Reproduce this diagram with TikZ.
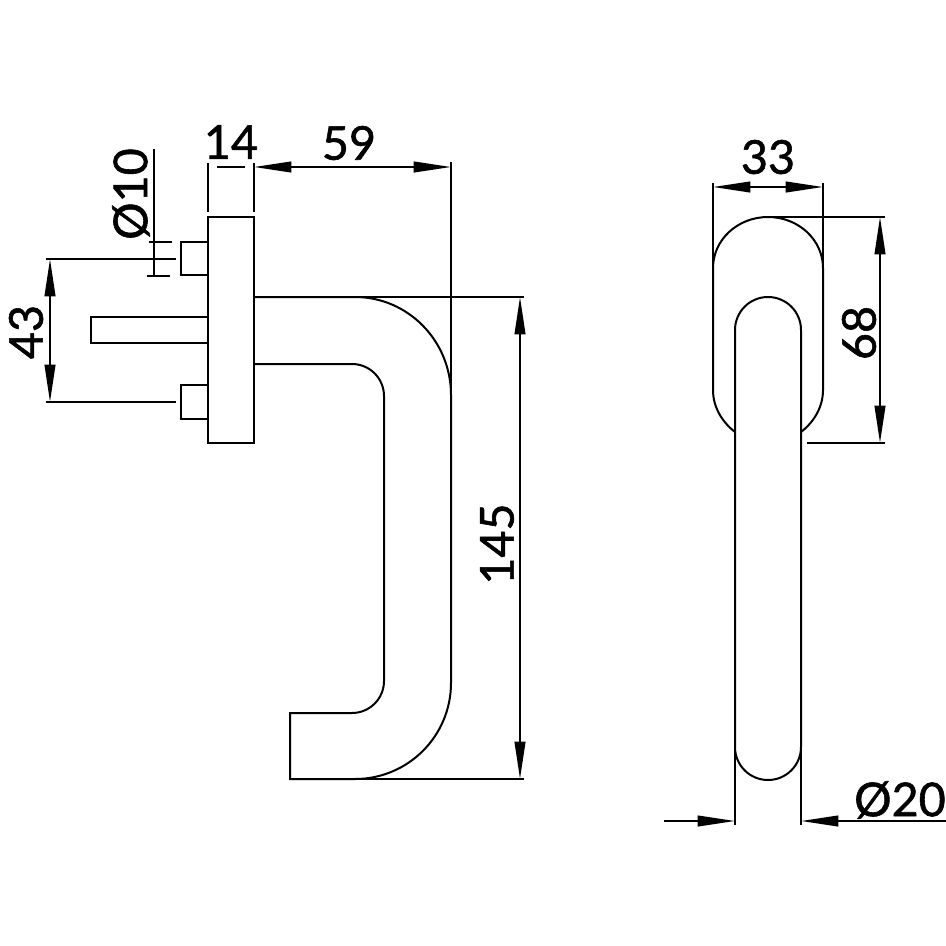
\documentclass[tikz,border=0pt]{standalone}
\usepackage{fontspec}
\setmainfont{Lato}[RawFeature={embolden=1.2}]
\usetikzlibrary{arrows.meta}
\tikzstyle{part} = [line width=1.5pt, line join=miter]
\tikzstyle{thinline} = [line width=1.3pt]
\tikzstyle{dimension} = [line width=1.5pt, {Triangle[length=28pt,width=8pt]}-{Triangle[length=28pt,width=8pt]}]
\tikzstyle{pointer} = [line width=1.5pt, -{Triangle[length=28pt,width=8pt]}]
\tikzstyle{measure} = [font=\fontsize{35}{35}\selectfont, inner sep=0pt]

\begin{document}
\begin{tikzpicture}[x=0.75pt, y=-0.75pt]
    \useasboundingbox (0,0) rectangle (946,946);
    % side view
    \draw [part] (208,217) rectangle (254,443);
    \draw [part] (208,242) -- (181,242) -- (181,275) -- (208,275);
    \draw [part] (208,385) -- (181,385) -- (181,419) -- (208,419);
    \draw [part] (208,317) -- (91,317) -- (91,343) -- (208,343);
    \draw [part] (254,297) -- (355,297) arc (-90:0:96 and 98) -- (451,683)
      arc (0:90:96) -- (290,779) -- (290,713) -- (352,713) arc (90:0:32) -- (384,396)
      arc (0:-90:32) -- (254,364);
    % front view
    \draw [part] (735,432) .. controls (722,422) and (713,407) .. (713,390) -- (713,268)
      arc (180:360:55 and 51) -- (823,390) .. controls (823,407) and (814,422) .. (801,432);
    \draw [part] (735,330) arc (180:360:33) -- (801,747) arc (0:180:33) -- cycle;
    % named ends
    \coordinate (platetopl) at (208,212);
    \coordinate (platetopr) at (254,212);
    \coordinate (studtop) at (176,259);
    \coordinate (studbot) at (176,402);
    \coordinate (leftend) at (46,259);
    \coordinate (leftbot) at (46,402);
    % extension lines
    \draw [thinline] (208,163) -- (platetopl);
    \draw [thinline] (254,163) -- (platetopr);
    \draw [thinline] (451,162) -- (451,395);
    \draw [part] (leftend) -- (studtop);
    \draw [thinline] (leftbot) -- (studbot);
    \draw [thinline] (355,297) -- (524,297);
    \draw [thinline] (355,779) -- (524,779);
    \draw [thinline] (713,183) -- (713,268);
    \draw [thinline] (823,183) -- (823,268);
    \draw [thinline] (768,217) -- (885,217);
    \draw [thinline] (807,443) -- (885,443);
    \draw [thinline] (735,747) -- (735,825);
    \draw [thinline] (801,747) -- (801,825);
    % dimensions
    \draw [thinline] (217,167) -- (245,167);
    \draw [dimension] (254,167) -- (451,167);
    \draw [thinline] (154,149) -- (154,277);
    \draw [thinline] (149,242) -- (172,242);
    \draw [thinline] (147,276) -- (170,276);
    \draw [dimension] (50,259) -- (50,402);
    \draw [dimension] (520,297) -- (520,779);
    \draw [dimension] (713,187) -- (823,187);
    \draw [dimension] (880,217) -- (880,443);
    \draw [pointer] (664,821) -- (735,821);
    \draw [pointer] (946,821) -- (801,821);
    % labels
    \node (l14) [measure] at (231,142) {14};
    \node (l59) [measure] at (349,143) {59};
    \node (l10) [measure, rotate=90] at (131,194) {Ø10};
    \node (l43) [measure, rotate=90] at (26,332) {43};
    \node (l145) [measure, rotate=90] at (497,544) {145};
    \node (l33) [measure] at (768,157) {33};
    \node (l68) [measure, rotate=90] at (859,333) {68};
    \node (l20) [measure] at (900,800) {Ø20};
  \end{tikzpicture}
\end{document}
